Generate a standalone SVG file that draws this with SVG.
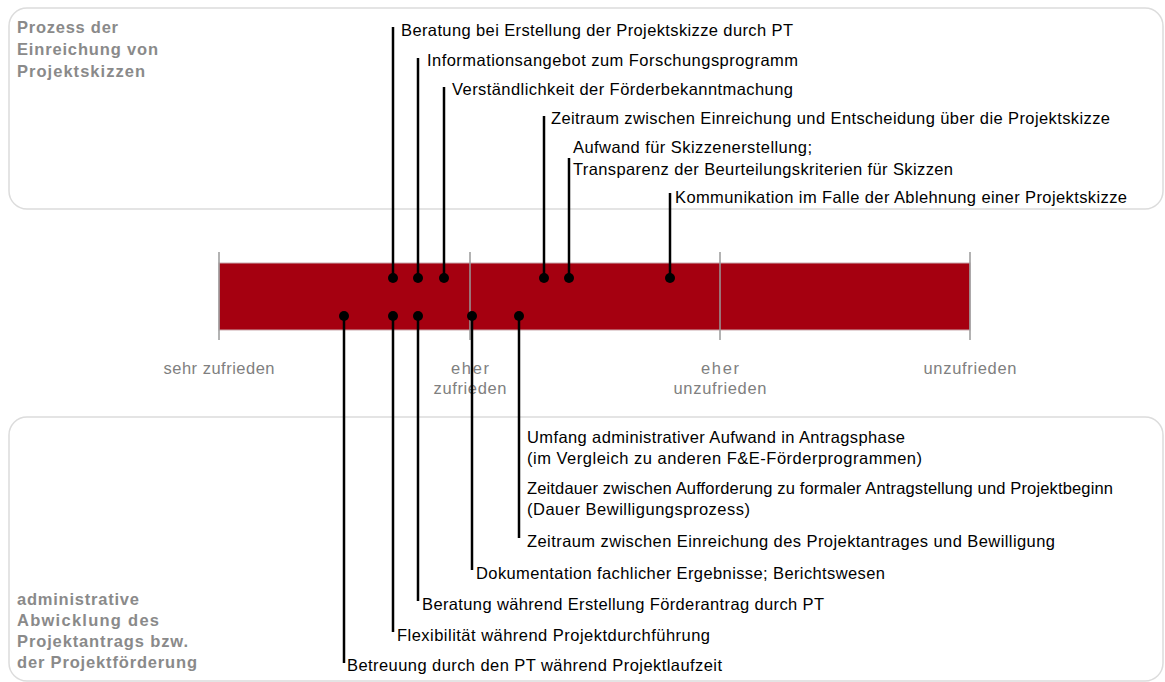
<svg xmlns="http://www.w3.org/2000/svg" width="1165" height="682" viewBox="0 0 1165 682">
<style>
.panel{fill:#fff;stroke:#dcdcdc;stroke-width:1.5}
.title{font-family:"Liberation Sans",Arial,sans-serif;font-size:16.5px;font-weight:bold;fill:#8a8a8a}
.lbl{font-family:"Liberation Sans",Arial,sans-serif;font-size:16.5px;fill:#000}
.axis{font-family:"Liberation Sans",Arial,sans-serif;font-size:16.5px;fill:#808080}
.tick{stroke:#9a9a9a;stroke-width:1.5}
.lead{stroke:#000;stroke-width:2.5;fill:none}
.dot{fill:#000}
</style>
<rect width="1165" height="682" fill="#fff"/>
<g id="panel-top">
<rect class="panel" x="9" y="8" width="1154" height="201" rx="18"/>
<text class="title" x="17" y="33" textLength="101" lengthAdjust="spacing">Prozess der</text>
<text class="title" x="17" y="55" textLength="141" lengthAdjust="spacing">Einreichung von</text>
<text class="title" x="17" y="77" textLength="128" lengthAdjust="spacing">Projektskizzen</text>
</g>
<g id="panel-bottom">
<rect class="panel" x="9" y="417" width="1154" height="264" rx="18"/>
<text class="title" x="17" y="605" textLength="122" lengthAdjust="spacing">administrative</text>
<text class="title" x="17" y="626" textLength="142" lengthAdjust="spacing">Abwicklung des</text>
<text class="title" x="17" y="647" textLength="171" lengthAdjust="spacing">Projektantrags bzw.</text>
<text class="title" x="17" y="668" textLength="180" lengthAdjust="spacing">der Projektförderung</text>
</g>
<g id="scale">
<rect x="219" y="263" width="751" height="67" fill="#a50010" stroke="#c9a9ad" stroke-width="1"/>
<line class="tick" x1="219" y1="252" x2="219" y2="340"/>
<line class="tick" x1="470" y1="252" x2="470" y2="340"/>
<line class="tick" x1="720" y1="252" x2="720" y2="340"/>
<line class="tick" x1="970" y1="252" x2="970" y2="340"/>
<text class="axis" x="219" y="374" text-anchor="middle" textLength="111" lengthAdjust="spacing">sehr zufrieden</text>
<text class="axis" x="470" y="374" text-anchor="middle" textLength="38" lengthAdjust="spacing">eher</text>
<text class="axis" x="470" y="394" text-anchor="middle" textLength="73" lengthAdjust="spacing">zufrieden</text>
<text class="axis" x="720" y="374" text-anchor="middle" textLength="38" lengthAdjust="spacing">eher</text>
<text class="axis" x="720" y="394" text-anchor="middle" textLength="93" lengthAdjust="spacing">unzufrieden</text>
<text class="axis" x="970" y="374" text-anchor="middle" textLength="93" lengthAdjust="spacing">unzufrieden</text>
</g>
<g id="connectors">
<line class="lead" x1="393" y1="278" x2="393" y2="27"/>
<line class="lead" x1="418" y1="278" x2="418" y2="58"/>
<line class="lead" x1="444" y1="278" x2="444" y2="87"/>
<line class="lead" x1="544" y1="278" x2="544" y2="116"/>
<line class="lead" x1="569" y1="278" x2="569" y2="158"/>
<line class="lead" x1="670" y1="278" x2="670" y2="193"/>
<line class="lead" x1="344" y1="316" x2="344" y2="663"/>
<line class="lead" x1="393" y1="316" x2="393" y2="632"/>
<line class="lead" x1="418" y1="316" x2="418" y2="601"/>
<line class="lead" x1="472" y1="316" x2="472" y2="570"/>
<line class="lead" x1="519" y1="316" x2="519" y2="538"/>
</g>
<g id="dots">
<circle class="dot" cx="393" cy="278" r="5"/>
<circle class="dot" cx="418" cy="278" r="5"/>
<circle class="dot" cx="444" cy="278" r="5"/>
<circle class="dot" cx="544" cy="278" r="5"/>
<circle class="dot" cx="569" cy="278" r="5"/>
<circle class="dot" cx="670" cy="278" r="5"/>
<circle class="dot" cx="344" cy="316" r="5"/>
<circle class="dot" cx="393" cy="316" r="5"/>
<circle class="dot" cx="418" cy="316" r="5"/>
<circle class="dot" cx="472" cy="316" r="5"/>
<circle class="dot" cx="519" cy="316" r="5"/>
</g>
<g id="labels-top">
<text class="lbl" x="401" y="36" textLength="392" lengthAdjust="spacing">Beratung bei Erstellung der Projektskizze durch PT</text>
<text class="lbl" x="427" y="66" textLength="371" lengthAdjust="spacing">Informationsangebot zum Forschungsprogramm</text>
<text class="lbl" x="452" y="95" textLength="341" lengthAdjust="spacing">Verständlichkeit der Förderbekanntmachung</text>
<text class="lbl" x="551" y="124" textLength="559" lengthAdjust="spacing">Zeitraum zwischen Einreichung und Entscheidung über die Projektskizze</text>
<text class="lbl" x="573" y="153" textLength="239" lengthAdjust="spacing">Aufwand für Skizzenerstellung;</text>
<text class="lbl" x="573" y="175" textLength="380" lengthAdjust="spacing">Transparenz der Beurteilungskriterien für Skizzen</text>
<text class="lbl" x="675" y="203" textLength="452" lengthAdjust="spacing">Kommunikation im Falle der Ablehnung einer Projektskizze</text>
</g>
<g id="labels-bottom">
<text class="lbl" x="527" y="443" textLength="378" lengthAdjust="spacing">Umfang administrativer Aufwand in Antragsphase</text>
<text class="lbl" x="527" y="464" textLength="395" lengthAdjust="spacing">(im Vergleich zu anderen F&amp;E-Förderprogrammen)</text>
<text class="lbl" x="527" y="494" textLength="586" lengthAdjust="spacing">Zeitdauer zwischen Aufforderung zu formaler Antragstellung und Projektbeginn</text>
<text class="lbl" x="527" y="515" textLength="223" lengthAdjust="spacing">(Dauer Bewilligungsprozess)</text>
<text class="lbl" x="527" y="547" textLength="528" lengthAdjust="spacing">Zeitraum zwischen Einreichung des Projektantrages und Bewilligung</text>
<text class="lbl" x="476" y="579" textLength="409" lengthAdjust="spacing">Dokumentation fachlicher Ergebnisse; Berichtswesen</text>
<text class="lbl" x="422" y="610" textLength="402" lengthAdjust="spacing">Beratung während Erstellung Förderantrag durch PT</text>
<text class="lbl" x="397" y="641" textLength="313" lengthAdjust="spacing">Flexibilität während Projektdurchführung</text>
<text class="lbl" x="347" y="671" textLength="375" lengthAdjust="spacing">Betreuung durch den PT während Projektlaufzeit</text>
</g>
</svg>
